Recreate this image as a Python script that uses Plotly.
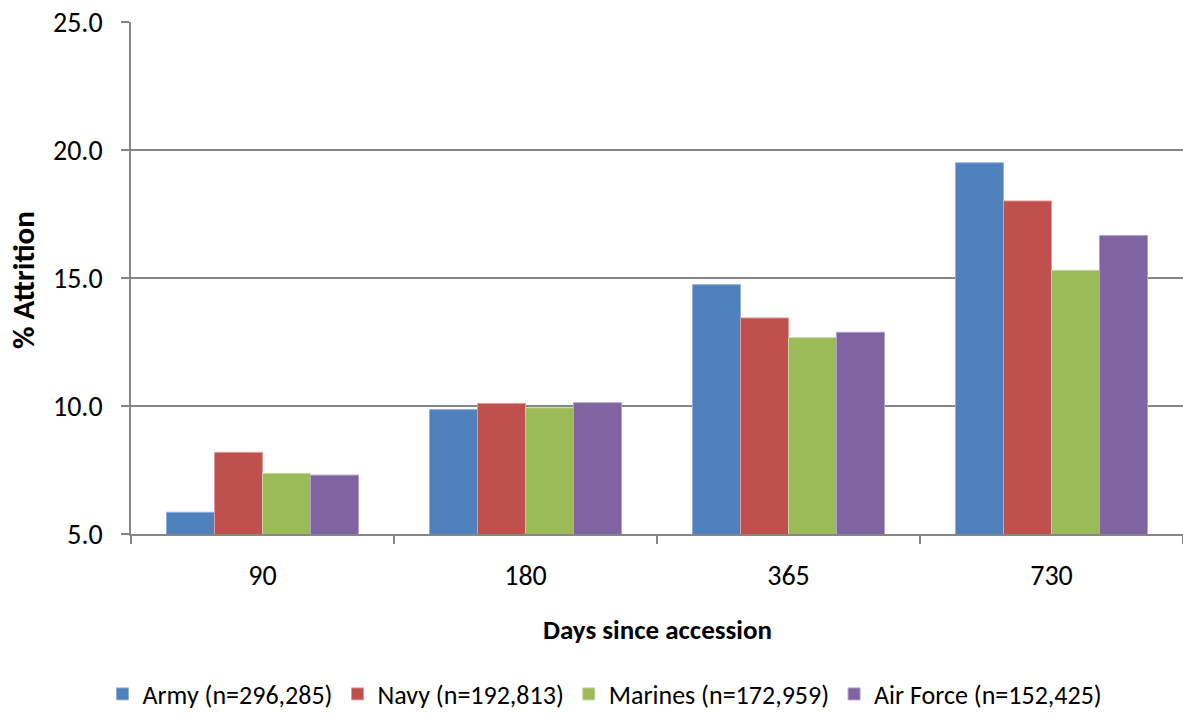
import plotly.graph_objects as go

# Attrition by days since accession, per service branch
days = ["90", "180", "365", "730"]
army = [5.85, 9.86, 14.74, 19.50]
navy = [8.19, 10.10, 13.44, 18.01]
marines = [7.37, 9.93, 12.67, 15.30]
air_force = [7.30, 10.13, 12.88, 16.66]

series_names = [
    "Army (n=296,285)",
    "Navy (n=192,813)",
    "Marines (n=172,959)",
    "Air Force (n=152,425)",
]
series_values = [army, navy, marines, air_force]
fill_colors = ["#4F81BD", "#C0504D", "#9BBB59", "#8064A2"]
edge_colors = ["#8FB0DA", "#E29A98", "#C3D99A", "#B3A0CC"]

FONT = "Carlito, Calibri, Lato, sans-serif"
GRID = "#868686"

W, H = 1183, 715
L, R, T, B = 131, 0, 22, 181

fig = go.Figure()
for name, vals, fc, ec in zip(series_names, series_values, fill_colors, edge_colors):
    fig.add_trace(go.Bar(
        x=days, y=vals, name=name,
        marker=dict(color=fc, line=dict(color=ec, width=1)),
    ))

plot_w = W - L - R
plot_h = H - T - B

fig.update_layout(
    width=W, height=H,
    margin=dict(l=L, r=R, t=T, b=B, autoexpand=False),
    paper_bgcolor="white", plot_bgcolor="white",
    barmode="group", bargap=0.27, bargroupgap=0,
    font=dict(family=FONT, size=26, color="black"),
    showlegend=True,
    legend=dict(
        orientation="h", x=(605 - L) / plot_w, xanchor="center",
        yref="container", y=(H - 694) / H, yanchor="middle",
        font=dict(family=FONT, size=26),
        traceorder="normal", itemwidth=30,
    ),
    xaxis=dict(
        type="category",
        showline=True, linecolor=GRID, linewidth=1.5,
        ticks="outside", tickson="boundaries", ticklen=8, tickcolor=GRID, tickwidth=1.5,
        showgrid=False,
        tickfont=dict(family=FONT, size=28),
        ticklabelstandoff=16,
    ),
    yaxis=dict(
        range=[5, 25], tickvals=[5, 10, 15, 20, 25], tickformat=".1f",
        showline=True, linecolor=GRID, linewidth=1.5,
        ticks="outside", ticklen=8, tickcolor=GRID, tickwidth=1.5,
        showgrid=True, gridcolor=GRID, gridwidth=1.5,
        zeroline=False,
        tickfont=dict(family=FONT, size=28),
        ticklabelstandoff=13,
    ),
    annotations=[
        dict(
            text="<b>% Attrition</b>", textangle=-90,
            xref="paper", yref="paper",
            x=(23 - L) / plot_w, y=(H - B - 280) / plot_h,
            xanchor="center", yanchor="middle", showarrow=False,
            font=dict(family=FONT, size=31, color="black"),
        ),
        dict(
            text="<b>Days since accession</b>",
            xref="paper", yref="paper",
            x=0.5, y=-(629 - (H - B)) / plot_h,
            xanchor="center", yanchor="middle", showarrow=False,
            font=dict(family=FONT, size=27, color="black"),
        ),
    ],
)

fig.write_html("out.html")
